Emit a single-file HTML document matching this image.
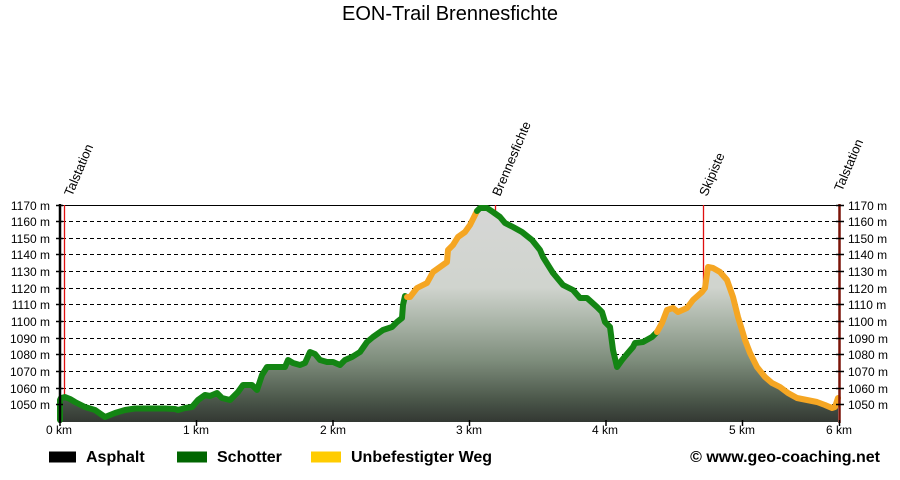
<!DOCTYPE html>
<html>
<head>
<meta charset="utf-8">
<style>
html,body{margin:0;padding:0;background:#fff;}
svg{display:block;}
text{font-family:"Liberation Sans",Arial,sans-serif;}
</style>
</head>
<body>
<svg width="900" height="480" viewBox="0 0 900 480" xmlns="http://www.w3.org/2000/svg">
<defs>
<linearGradient id="g" gradientUnits="userSpaceOnUse" x1="0" y1="205" x2="0" y2="422">
<stop offset="0" stop-color="#d6d7d6"/>
<stop offset="0.38" stop-color="#d0d4ce"/>
<stop offset="0.55" stop-color="#a7b2a5"/>
<stop offset="0.72" stop-color="#7d8c7b"/>
<stop offset="0.9" stop-color="#4a5649"/>
<stop offset="1" stop-color="#333833"/>
</linearGradient>
</defs>

<text x="450" y="20" font-size="20" text-anchor="middle" fill="#000">EON-Trail Brennesfichte</text>

<!-- grid lines -->
<g stroke="#000" stroke-width="1" stroke-dasharray="4,3">
<line x1="62" y1="221.5" x2="838" y2="221.5"/>
<line x1="62" y1="238.5" x2="838" y2="238.5"/>
<line x1="62" y1="254.5" x2="838" y2="254.5"/>
<line x1="62" y1="271.5" x2="838" y2="271.5"/>
<line x1="62" y1="288.5" x2="838" y2="288.5"/>
<line x1="62" y1="304.5" x2="838" y2="304.5"/>
<line x1="62" y1="321.5" x2="838" y2="321.5"/>
<line x1="62" y1="338.5" x2="838" y2="338.5"/>
<line x1="62" y1="354.5" x2="838" y2="354.5"/>
<line x1="62" y1="371.5" x2="838" y2="371.5"/>
<line x1="62" y1="388.5" x2="838" y2="388.5"/>
<line x1="62" y1="404.5" x2="838" y2="404.5"/>
</g>
<line x1="60" y1="205.5" x2="839" y2="205.5" stroke="#000" stroke-width="1"/>

<!-- red waypoint lines -->
<g stroke="#e01010" stroke-width="1.3">
<line x1="64.5" y1="205" x2="64.5" y2="422"/>
<line x1="495.5" y1="205" x2="495.5" y2="222"/>
<line x1="703.5" y1="205" x2="703.5" y2="295"/>
</g>

<!-- fill -->
<polygon fill="url(#g)" points="60,422 60,400 61,398 65,397 70,399 75,402 85,407 95,410 105,417 115,413 125,410 135,408.5 150,408.5 165,408.5 175,409 178,410 185,408 192,407 198,400 205,395 210,396 217,393 222,398 230,400 238,392 243,385 252,385 257,390 262,375 267,367 285,367 288,360 293,363 300,365 305,363 310,352 315,354 320,360 327,362 333,362 340,365 345,360 352,357 360,352 367,342 373,337 383,330 392,327 397,322 402,318 403,305 405,296 407,297 410,297 417,288 427,283 433,272 440,267 447,262 448,250 453,245 458,237 465,232 470,225 475,215 477,211 480,208 487,208 493,212 500,217 505,223 513,227 522,232 532,240 540,250 543,257 553,273 563,285 573,290 580,298 587,298 597,307 602,312 605,322 610,327 613,350 617,367 622,360 627,354 633,347 635,343 643,342 652,337 657,332 662,323 667,310 673,308 678,312 687,308 693,300 702,292 705,288 708,267 713,268 720,272 727,280 733,297 738,317 742,330 745,340 750,353 757,367 765,377 772,383 780,387 788,393 797,398 807,400 817,402 825,405 832,408 835,407 838,398 838,422"/>

<!-- profile line -->
<g fill="none" stroke-width="6" stroke-linejoin="round" stroke-linecap="round">
<polyline stroke="#138513" points="60,420 60,400 61,398 65,397 70,399 75,402 85,407 95,410 105,417 115,413 125,410 135,408.5 150,408.5 165,408.5 175,409 178,410 185,408 192,407 198,400 205,395 210,396 217,393 222,398 230,400 238,392 243,385 252,385 257,390 262,375 267,367 285,367 288,360 293,363 300,365 305,363 310,352 315,354 320,360 327,362 333,362 340,365 345,360 352,357 360,352 367,342 373,337 383,330 392,327 397,322 402,318 403,305 405,296 407,297"/>
<polyline stroke="#f5a623" points="407,297 410,297 417,288 427,283 433,272 440,267 447,262 448,250 453,245 458,237 465,232 470,225 475,215 477,211"/>
<polyline stroke="#138513" points="477,211 480,208 487,208 493,212 500,217 505,223 513,227 522,232 532,240 540,250 543,257 553,273 563,285 573,290 580,298 587,298 597,307 602,312 605,322 610,327 613,350 617,367 622,360 627,354 633,347 635,343 643,342 652,337 657,332"/>
<polyline stroke="#f5a623" points="657,332 662,323 667,310 673,308 678,312 687,308 693,300 702,292 705,288 708,267 713,268 720,272 727,280 733,297 738,317 742,330 745,340 750,353 757,367 765,377 772,383 780,387 788,393 797,398 807,400 817,402 825,405 832,408 835,407 838,398"/>
</g>

<!-- axes -->
<line x1="60" y1="204" x2="60" y2="423" stroke="#000" stroke-width="2.5"/>
<line x1="839.5" y1="204" x2="839.5" y2="423" stroke="#7a1408" stroke-width="2.5"/>
<g stroke="#000" stroke-width="1.5">
<line x1="56" y1="205.5" x2="63" y2="205.5"/>
<line x1="56" y1="221.5" x2="63" y2="221.5"/>
<line x1="56" y1="238.5" x2="63" y2="238.5"/>
<line x1="56" y1="254.5" x2="63" y2="254.5"/>
<line x1="56" y1="271.5" x2="63" y2="271.5"/>
<line x1="56" y1="288.5" x2="63" y2="288.5"/>
<line x1="56" y1="304.5" x2="63" y2="304.5"/>
<line x1="56" y1="321.5" x2="63" y2="321.5"/>
<line x1="56" y1="338.5" x2="63" y2="338.5"/>
<line x1="56" y1="354.5" x2="63" y2="354.5"/>
<line x1="56" y1="371.5" x2="63" y2="371.5"/>
<line x1="56" y1="388.5" x2="63" y2="388.5"/>
<line x1="56" y1="404.5" x2="63" y2="404.5"/>
<line x1="836" y1="205.5" x2="844" y2="205.5"/>
<line x1="836" y1="221.5" x2="844" y2="221.5"/>
<line x1="836" y1="238.5" x2="844" y2="238.5"/>
<line x1="836" y1="254.5" x2="844" y2="254.5"/>
<line x1="836" y1="271.5" x2="844" y2="271.5"/>
<line x1="836" y1="288.5" x2="844" y2="288.5"/>
<line x1="836" y1="304.5" x2="844" y2="304.5"/>
<line x1="836" y1="321.5" x2="844" y2="321.5"/>
<line x1="836" y1="338.5" x2="844" y2="338.5"/>
<line x1="836" y1="354.5" x2="844" y2="354.5"/>
<line x1="836" y1="371.5" x2="844" y2="371.5"/>
<line x1="836" y1="388.5" x2="844" y2="388.5"/>
<line x1="836" y1="404.5" x2="844" y2="404.5"/>
</g>
<g stroke="#000" stroke-width="1.5">
<line x1="60" y1="420" x2="60" y2="426"/>
<line x1="196.5" y1="420" x2="196.5" y2="426"/>
<line x1="333" y1="420" x2="333" y2="426"/>
<line x1="469.5" y1="420" x2="469.5" y2="426"/>
<line x1="606" y1="420" x2="606" y2="426"/>
<line x1="742.5" y1="420" x2="742.5" y2="426"/>
<line x1="839.5" y1="420" x2="839.5" y2="426"/>
</g>

<!-- y labels -->
<g font-size="12" fill="#000" text-anchor="end">
<text x="50" y="210">1170 m</text>
<text x="50" y="226">1160 m</text>
<text x="50" y="243">1150 m</text>
<text x="50" y="259">1140 m</text>
<text x="50" y="276">1130 m</text>
<text x="50" y="293">1120 m</text>
<text x="50" y="309">1110 m</text>
<text x="50" y="326">1100 m</text>
<text x="50" y="343">1090 m</text>
<text x="50" y="359">1080 m</text>
<text x="50" y="376">1070 m</text>
<text x="50" y="393">1060 m</text>
<text x="50" y="409">1050 m</text>
</g>
<g font-size="12" fill="#000">
<text x="848" y="210">1170 m</text>
<text x="848" y="226">1160 m</text>
<text x="848" y="243">1150 m</text>
<text x="848" y="259">1140 m</text>
<text x="848" y="276">1130 m</text>
<text x="848" y="293">1120 m</text>
<text x="848" y="309">1110 m</text>
<text x="848" y="326">1100 m</text>
<text x="848" y="343">1090 m</text>
<text x="848" y="359">1080 m</text>
<text x="848" y="376">1070 m</text>
<text x="848" y="393">1060 m</text>
<text x="848" y="409">1050 m</text>
</g>

<!-- x labels -->
<g font-size="12" fill="#000" text-anchor="middle">
<text x="59" y="434">0 km</text>
<text x="196" y="434">1 km</text>
<text x="333" y="434">2 km</text>
<text x="469" y="434">3 km</text>
<text x="605" y="434">4 km</text>
<text x="742" y="434">5 km</text>
<text x="839" y="434">6 km</text>
</g>

<!-- waypoint labels -->
<g font-size="13" fill="#000">
<text transform="translate(72,197) rotate(-67)">Talstation</text>
<text transform="translate(500,197) rotate(-67)">Brennesfichte</text>
<text transform="translate(707,197) rotate(-67)">Skipiste</text>
<text transform="translate(842,192) rotate(-67)">Talstation</text>
</g>

<!-- legend -->
<rect x="49" y="451.5" width="27" height="11" fill="#000"/>
<text x="86" y="462" font-size="16" font-weight="bold" fill="#000">Asphalt</text>
<rect x="177" y="451.5" width="30" height="11" fill="#006600"/>
<text x="217" y="462" font-size="16" font-weight="bold" fill="#000">Schotter</text>
<rect x="311" y="451.5" width="30" height="11" fill="#ffcc00"/>
<text x="351" y="462" font-size="16" font-weight="bold" fill="#000">Unbefestigter Weg</text>
<text x="880" y="462" font-size="16" font-weight="bold" fill="#000" text-anchor="end">© www.geo-coaching.net</text>
</svg>
</body>
</html>
